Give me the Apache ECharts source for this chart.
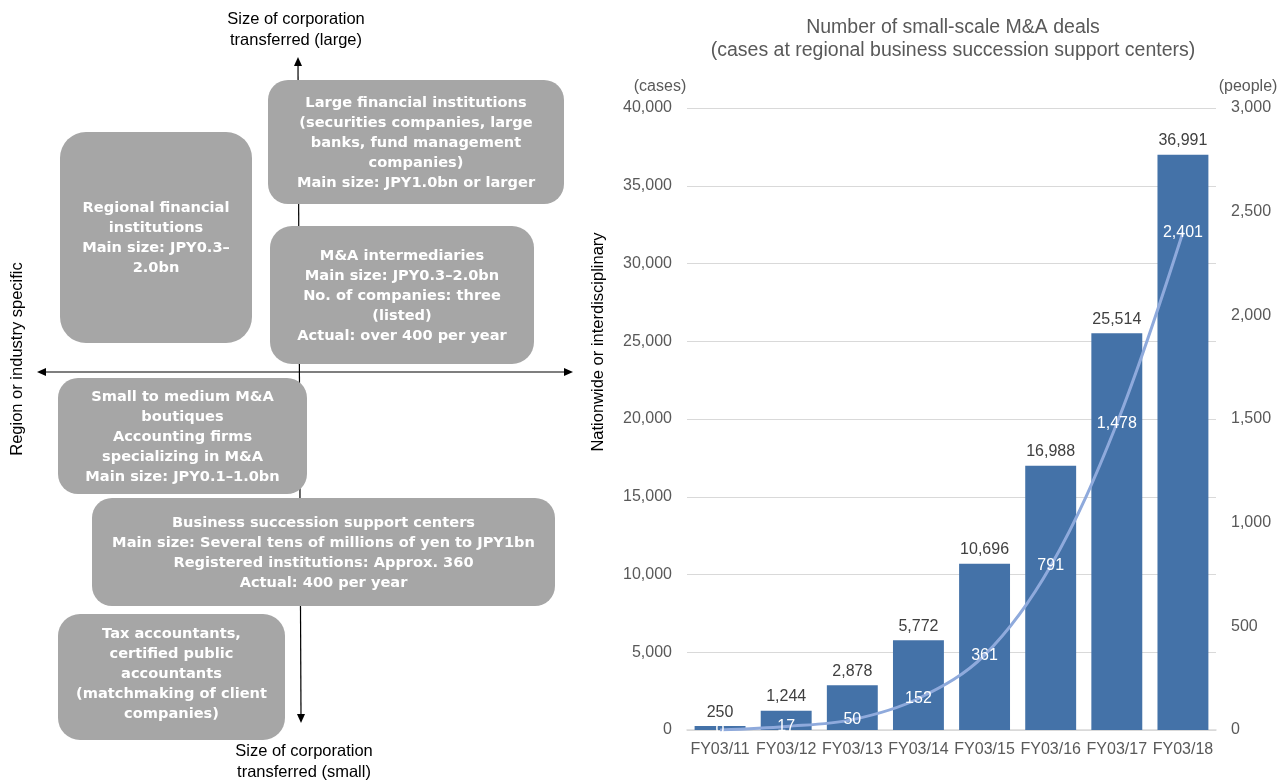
<!DOCTYPE html>
<html>
<head>
<meta charset="utf-8">
<script src="https://cdn.jsdelivr.net/npm/echarts@6/dist/echarts.min.js"></script>
<style>
html,body{margin:0;padding:0;background:#fff;}
#chart{width:1286px;height:783px;}
</style>
</head>
<body>
<div id="chart"></div>
<script>
const categories = ['FY03/11','FY03/12','FY03/13','FY03/14','FY03/15','FY03/16','FY03/17','FY03/18'];
const dealCases = [250, 1244, 2878, 5772, 10696, 16988, 25514, 36991];
const people = [0, 17, 50, 152, 361, 791, 1478, 2401];
const leftTicks = [0, 40000, 5000];
const rightTicks = [0, 3000, 500];
const chartTitle = 'Number of small-scale M&A deals\n(cases at regional business succession support centers)';
const boxTexts = [
  'Large financial institutions\n(securities companies, large\nbanks, fund management\ncompanies)\nMain size: JPY1.0bn or larger',
  'Regional financial\ninstitutions\nMain size: JPY0.3–\n2.0bn',
  'M&A intermediaries\nMain size: JPY0.3–2.0bn\nNo. of companies: three\n(listed)\nActual: over 400 per year',
  'Small to medium M&A\nboutiques\nAccounting firms\nspecializing in M&A\nMain size: JPY0.1–1.0bn',
  'Business succession support centers\nMain size: Several tens of millions of yen to JPY1bn\nRegistered institutions: Approx. 360\nActual: 400 per year',
  'Tax accountants,\ncertified public\naccountants\n(matchmaking of client\ncompanies)'
];
const axisTexts = {
  top: 'Size of corporation\ntransferred (large)',
  bottom: 'Size of corporation\ntransferred (small)',
  left: 'Region or industry specific',
  right: 'Nationwide or interdisciplinary'
};

const boxGeom = [
  [268, 80, 296, 124, 20],
  [60, 132, 192, 211, 26],
  [270, 226, 264, 138, 22],
  [58, 378, 249, 116, 20],
  [92, 498, 463, 108, 20],
  [58, 614, 227, 126, 22]
];
const boxTextY = [143, 238, 296, 437, 553, 674];

const FONT = '"Liberation Sans", Arial, sans-serif';
const BOXFONT = '"DejaVu Sans", Verdana, sans-serif';
const graphics = [];
// axes of the diagram
graphics.push({type:'line', shape:{x1:44,y1:372,x2:566,y2:372}, style:{stroke:'#000',lineWidth:1.2}, z:1});
graphics.push({type:'polygon', shape:{points:[[37,372],[46,368],[46,376]]}, style:{fill:'#000'}, z:1});
graphics.push({type:'polygon', shape:{points:[[573,372],[564,368],[564,376]]}, style:{fill:'#000'}, z:1});
graphics.push({type:'line', shape:{x1:298,y1:64,x2:301,y2:716}, style:{stroke:'#000',lineWidth:1.2}, z:1});
graphics.push({type:'polygon', shape:{points:[[298,57],[294,66],[302,66]]}, style:{fill:'#000'}, z:1});
graphics.push({type:'polygon', shape:{points:[[301,723],[297,714],[305,714]]}, style:{fill:'#000'}, z:1});
// boxes
boxGeom.forEach((g, i) => {
  graphics.push({type:'rect', shape:{x:g[0], y:g[1], width:g[2], height:g[3], r:g[4]}, style:{fill:'#A6A6A6'}, z:2});
  graphics.push({type:'text', x:g[0]+g[2]/2, y:boxTextY[i], z:3, style:{
    text: boxTexts[i], fill:'#fff', font:'bold 14.6px ' + BOXFONT, textAlign:'center', textVerticalAlign:'middle', lineHeight:20
  }});
});
// axis labels of the diagram
graphics.push({type:'text', x:296, y:30, z:3, style:{text:axisTexts.top, fill:'#000', font:'16.5px ' + FONT, textAlign:'center', textVerticalAlign:'middle', lineHeight:21}});
graphics.push({type:'text', x:304, y:762, z:3, style:{text:axisTexts.bottom, fill:'#000', font:'16.5px ' + FONT, textAlign:'center', textVerticalAlign:'middle', lineHeight:21}});
graphics.push({type:'text', x:17, y:359, rotation:Math.PI/2, z:3, style:{text:axisTexts.left, fill:'#000', font:'16.5px ' + FONT, textAlign:'center', textVerticalAlign:'middle'}});
graphics.push({type:'text', x:598, y:342, rotation:Math.PI/2, z:3, style:{text:axisTexts.right, fill:'#000', font:'16.5px ' + FONT, textAlign:'center', textVerticalAlign:'middle'}});
// chart title and axis unit names
graphics.push({type:'text', x:953, y:39, z:3, style:{text:chartTitle, fill:'#595959', font:'19.5px ' + FONT, textAlign:'center', textVerticalAlign:'middle', lineHeight:23}});
graphics.push({type:'text', x:660, y:87, z:3, style:{text:'(cases)', fill:'#595959', font:'16px ' + FONT, textAlign:'center', textVerticalAlign:'middle'}});
graphics.push({type:'text', x:1248, y:87, z:3, style:{text:'(people)', fill:'#595959', font:'16px ' + FONT, textAlign:'center', textVerticalAlign:'middle'}});

const chart = echarts.init(document.getElementById('chart'), null, {renderer:'canvas'});
chart.setOption({
  animation:false,
  textStyle:{fontFamily:FONT},
  grid:{left:687, right:70, top:108, bottom:53, containLabel:false},
  xAxis:{
    type:'category', data:categories,
    axisLine:{lineStyle:{color:'#D9D9D9', width:1.5}},
    axisTick:{show:false},
    axisLabel:{color:'#595959', fontSize:16, margin:12, interval:0}
  },
  yAxis:[
    {type:'value', min:leftTicks[0], max:leftTicks[1], interval:leftTicks[2],
     axisLine:{show:false}, axisTick:{show:false},
     splitLine:{lineStyle:{color:'#D9D9D9', width:1.2}},
     axisLabel:{color:'#595959', fontSize:16, margin:15,
       formatter:v => v.toLocaleString('en-US')}},
    {type:'value', min:rightTicks[0], max:rightTicks[1], interval:rightTicks[2],
     axisLine:{show:false}, axisTick:{show:false}, splitLine:{show:false},
     axisLabel:{color:'#595959', fontSize:16, margin:15,
       formatter:v => v.toLocaleString('en-US')}}
  ],
  series:[
    {type:'bar', data:dealCases, yAxisIndex:0, barCategoryGap:'23%',
     itemStyle:{color:'#4472A8'},
     label:{show:true, position:'top', distance:6, color:'#404040', fontSize:16,
       formatter:p => p.value.toLocaleString('en-US')}},
    {type:'line', data:people, yAxisIndex:1, smooth:0.35, symbol:'circle', symbolSize:2, showSymbol:true,
     itemStyle:{color:'rgba(143,170,220,0)', borderWidth:0},
     lineStyle:{color:'#8FAADC', width:3},
     label:{show:true, position:'inside', color:'#fff', fontSize:16, opacity:1,
       formatter:p => p.value.toLocaleString('en-US')},
     labelLayout:{hideOverlap:false},
     z:5}
  ],
  graphic:graphics
});
</script>
</body>
</html>
